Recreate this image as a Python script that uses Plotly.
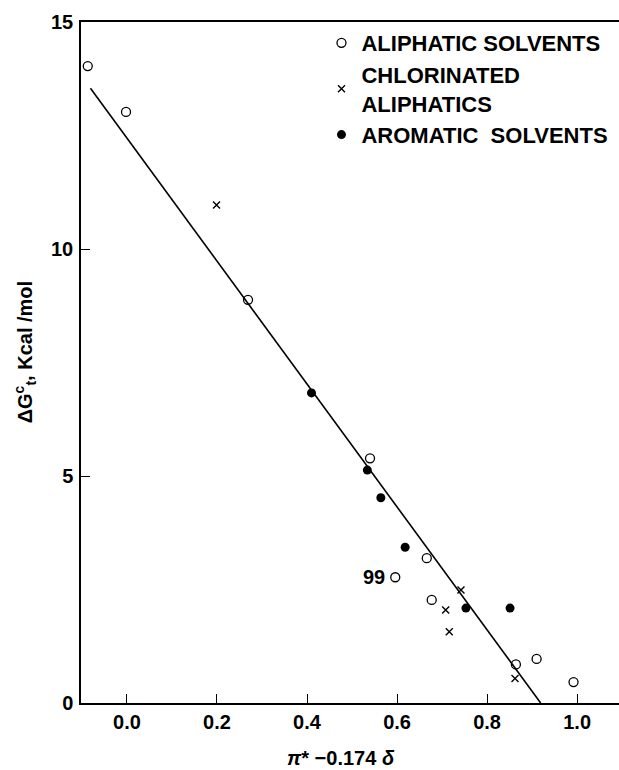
import plotly.graph_objects as go

# --- data ---
aliphatic_x = [-0.087, -0.002, 0.269, 0.540, 0.666, 0.596, 0.677, 0.864, 0.910, 0.992]
aliphatic_y = [14.03, 13.02, 8.88, 5.39, 3.19, 2.77, 2.27, 0.85, 0.97, 0.46]

chlorinated_x = [0.199, 0.742, 0.708, 0.716, 0.862]
chlorinated_y = [10.97, 2.49, 2.05, 1.57, 0.54]

aromatic_x = [0.410, 0.534, 0.564, 0.618, 0.753, 0.851]
aromatic_y = [6.83, 5.13, 4.52, 3.43, 2.09, 2.09]

fit_x = [-0.081, 0.919]
fit_y = [13.54, 0.0]

label_99_x = aliphatic_x[5]
label_99_y = aliphatic_y[5]

x_ticks = [0.0, 0.2, 0.4, 0.6, 0.8, 1.0]
x_ticktext = ["0.0", "0.2", "0.4", "0.6", "0.8", "1.0"]
y_ticks = [0, 5, 10, 15]
y_ticktext = ["0", "5", "10", "15"]

FONT = "Liberation Sans, Arial, Helvetica, sans-serif"

fig = go.Figure()

fig.add_trace(go.Scatter(
    x=fit_x, y=fit_y, mode="lines",
    line=dict(color="black", width=1.6),
    showlegend=False, hoverinfo="skip"))

fig.add_trace(go.Scatter(
    x=aliphatic_x, y=aliphatic_y, mode="markers",
    name="ALIPHATIC SOLVENTS",
    marker=dict(symbol="circle-open", size=9, color="black", line=dict(width=1.3))))

fig.add_trace(go.Scatter(
    x=chlorinated_x, y=chlorinated_y, mode="markers",
    name="CHLORINATED<br>ALIPHATICS",
    marker=dict(symbol="x-thin-open", size=7, color="black", line=dict(width=1.4, color="black"))))

fig.add_trace(go.Scatter(
    x=aromatic_x, y=aromatic_y, mode="markers",
    name="AROMATIC  SOLVENTS",
    marker=dict(symbol="circle", size=9, color="black")))

fig.add_annotation(
    x=label_99_x, y=label_99_y, xref="x", yref="y",
    text="99", showarrow=False, xanchor="right", yanchor="middle",
    xshift=-8, font=dict(family=FONT, size=20, color="black", weight="bold"))

# axis titles
fig.add_annotation(
    x=0.483, y=-0.081, xref="paper", yref="paper",
    text="<i>π</i>* −0.174 <i>δ</i>", showarrow=False,
    xanchor="center", yanchor="middle",
    font=dict(family=FONT, size=20, color="black", weight="bold"))

fig.add_annotation(
    x=-0.104, y=0.515, xref="paper", yref="paper",
    text="ΔG<sup>c</sup><sub>t</sub>, Kcal /mol", showarrow=False,
    textangle=-90, xanchor="center", yanchor="middle",
    font=dict(family=FONT, size=20, color="black", weight="bold"))

fig.update_layout(
    width=619, height=770,
    margin=dict(l=81, r=0, t=22, b=67),
    paper_bgcolor="white", plot_bgcolor="white",
    font=dict(family=FONT, color="black"),
    legend=dict(
        x=0.447, y=1.0, xanchor="left", yanchor="top",
        font=dict(family=FONT, size=22, color="black", weight="bold"),
        bgcolor="rgba(0,0,0,0)", tracegroupgap=0, itemsizing="trace"),
    xaxis=dict(
        range=[-0.102, 1.093], tickvals=x_ticks, ticktext=x_ticktext,
        ticks="inside", ticklen=9, tickwidth=1.2, tickcolor="black",
        showline=True, linecolor="black", linewidth=1.5, mirror=True,
        showgrid=False, zeroline=False,
        tickfont=dict(family=FONT, size=20, color="black", weight="bold")),
    yaxis=dict(
        range=[0, 15], tickvals=y_ticks, ticktext=y_ticktext,
        ticks="inside", ticklen=9, tickwidth=1.2, tickcolor="black",
        showline=True, linecolor="black", linewidth=1.5, mirror=False,
        showgrid=False, zeroline=False, ticklabelstandoff=2,
        tickfont=dict(family=FONT, size=20, color="black", weight="bold")),
)

fig.write_html("out.html",
               config={"displayModeBar": False},
               post_script="document.body.style.margin='0';document.body.style.overflow='hidden';")
